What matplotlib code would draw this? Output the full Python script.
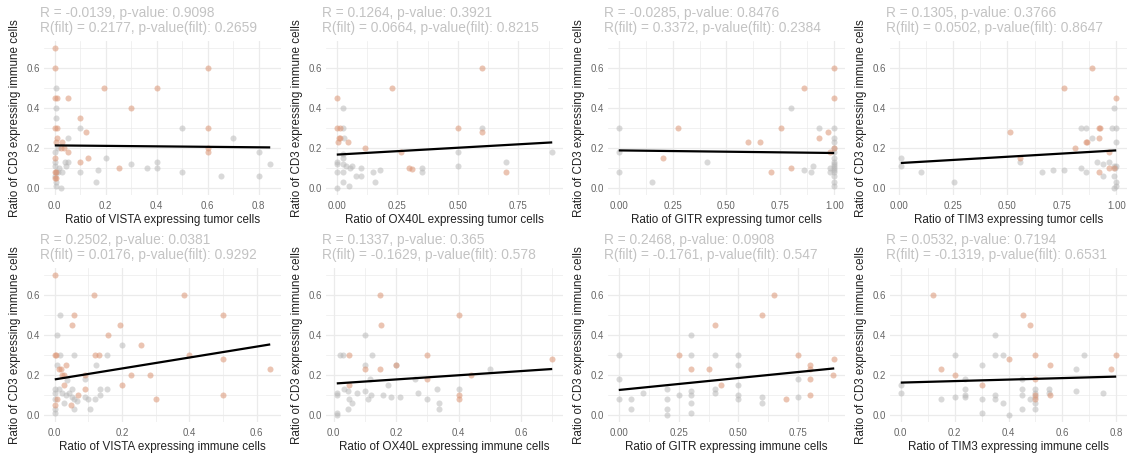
import numpy as np
import matplotlib
matplotlib.use("Agg")
import matplotlib.pyplot as plt

plt.rcParams['font.family'] = ['Liberation Sans', 'DejaVu Sans']

# ---------------------------------------------------------------- data
y_label = "Ratio of CD3 expressing immune cells"
y_ticks = [0.0, 0.2, 0.4, 0.6]
y_range = (0.0, 0.7)

# VISTA, tumor cells
vista_tumor_grey_x = [0.005, 0.003, 0.003, 0, 0, 0, 0.005, 0, 0.005, 0.003, 0.04, 0.05, 0.045, 0.03, 0.026,
                      0.012, 0.05, 0.10, 0.168, 0.16, 0.20, 0.30, 0.36, 0.40, 0.40, 0.50, 0.50, 0.65, 0.70,
                      0.80, 0.80, 0.845, 0.10, 0.012, 0.018]
vista_tumor_grey_y = [0.50, 0.40, 0.35, 0.18, 0.13, 0.11, 0.08, 0.06, 0.03, 0.01, 0.13, 0.13, 0.11, 0.08, 0.0,
                      0.08, 0.25, 0.08, 0.09, 0.03, 0.15, 0.12, 0.10, 0.10, 0.13, 0.30, 0.08, 0.06, 0.25,
                      0.18, 0.06, 0.12, 0.30, 0.20, 0.10]
vista_tumor_hi_x = [0, 0, 0, 0.007, 0, 0.007, 0.009, 0.003, 0.03, 0.025, 0.036, 0, 0.05, 0, 0.005, 0, 0.003,
                    0.052, 0.10, 0.123, 0.10, 0.13, 0.194, 0.297, 0.40, 0.60, 0.60, 0.60, 0.60, 0.25]
vista_tumor_hi_y = [0.70, 0.60, 0.45, 0.45, 0.30, 0.30, 0.25, 0.23, 0.23, 0.20, 0.20, 0.15, 0.18, 0.08, 0.08,
                    0.05, 0.05, 0.45, 0.35, 0.28, 0.13, 0.15, 0.50, 0.40, 0.50, 0.60, 0.30, 0.20, 0.18, 0.10]
vista_tumor_fit = [0.213, 0.203]

# OX40L, tumor cells
ox40l_tumor_grey_x = [0.027, 0.025, 0, 0, 0, 0, 0.025, 0.027, 0.027, 0.037, 0.025, 0.025, 0.055, 0.064, 0.05,
                      0.08, 0.10, 0.10, 0.15, 0.157, 0.18, 0.35, 0.35, 0.50, 0.50, 0.60, 0.70, 0.89, 0.03]
ox40l_tumor_grey_y = [0.40, 0.30, 0.13, 0.12, 0.08, 0.0, 0.17, 0.15, 0.12, 0.11, 0.08, 0.03, 0.10, 0.11, 0.01,
                      0.06, 0.06, 0.10, 0.08, 0.03, 0.09, 0.10, 0.08, 0.18, 0.11, 0.30, 0.13, 0.18, 0.25]
ox40l_tumor_hi_x = [0, 0, 0.014, 0.004, 0.01, 0.015, 0.048, 0.115, 0.23, 0.265, 0.30, 0.31, 0.50, 0.60, 0.60, 0.70]
ox40l_tumor_hi_y = [0.45, 0.30, 0.30, 0.23, 0.25, 0.25, 0.23, 0.20, 0.50, 0.18, 0.10, 0.095, 0.30, 0.60, 0.28, 0.08]
ox40l_tumor_fit = [0.167, 0.228]

# GITR, tumor cells
gitr_tumor_grey_x = [0, 0, 0, 0.155, 0.41, 0.80, 0.93, 1.0, 0.90, 0.89, 0.86, 0.98, 0.98, 1, 1, 1, 1, 1, 1,
                     1, 1, 1, 1, 1, 1, 1, 1]
gitr_tumor_grey_y = [0.30, 0.18, 0.08, 0.03, 0.13, 0.40, 0.30, 0.30, 0.11, 0.08, 0.09, 0.10, 0.08, 0.25, 0.23,
                     0.20, 0.18, 0.15, 0.13, 0.12, 0.11, 0.10, 0.09, 0.08, 0.06, 0.03, 0.01]
gitr_tumor_hi_x = [0.275, 0.205, 0.60, 0.655, 0.705, 0.755, 0.80, 0.858, 0.97, 0.93, 0.98, 1.0, 1.0, 1.0]
gitr_tumor_hi_y = [0.30, 0.15, 0.23, 0.23, 0.08, 0.30, 0.10, 0.50, 0.28, 0.25, 0.18, 0.60, 0.45, 0.20]
gitr_tumor_fit = [0.188, 0.175]

# TIM3, tumor cells
tim3_tumor_grey_x = [0.01, 0.01, 0.105, 0.255, 0.56, 0.66, 0.71, 0.76, 0.84, 0.86, 0.84, 0.86, 0.89, 0.91,
                     0.94, 0.94, 0.965, 0.98, 0.99, 0.99, 0.995, 1.0, 0.99, 0.99, 1.0, 1.0, 1.0, 1.0]
tim3_tumor_grey_y = [0.15, 0.11, 0.08, 0.03, 0.13, 0.08, 0.09, 0.09, 0.30, 0.30, 0.10, 0.08, 0.25, 0.13,
                     0.12, 0.06, 0.13, 0.30, 0.40, 0.11, 0.10, 0.11, 0.06, 0.0, 0.03, 0.01, 0.30, 0.23]
tim3_tumor_hi_x = [0.51, 0.56, 0.76, 0.89, 0.81, 0.86, 0.865, 0.92, 0.925, 0.92, 0.92, 0.965, 0.965, 0.99, 1.0]
tim3_tumor_hi_y = [0.28, 0.15, 0.50, 0.60, 0.20, 0.23, 0.23, 0.30, 0.30, 0.25, 0.08, 0.18, 0.10, 0.10, 0.45]
tim3_tumor_fit = [0.125, 0.188]

# VISTA, immune cells
vista_immune_grey_x = [0.016, 0.008, 0.20, 0.016, 0.057, 0.154, 0.123, 0.006, 0.037, 0.09, 0, 0, 0, 0, 0,
                       0.013, 0.022, 0.032, 0.042, 0.052, 0.052, 0.057, 0.067, 0.027, 0.057, 0.09, 0.10,
                       0.105, 0.12, 0.133, 0.135, 0.154]
vista_immune_grey_y = [0.50, 0.40, 0.35, 0.30, 0.30, 0.30, 0.25, 0.25, 0.175, 0.18, 0.13, 0.11, 0.08, 0.03,
                       0.01, 0.13, 0.11, 0.10, 0.11, 0.13, 0.09, 0.08, 0.07, 0.06, 0.03, 0.09, 0.08, 0.03,
                       0.08, 0.10, 0.13, 0.13]
vista_immune_hi_x = [0, 0.117, 0.383, 0.057, 0.50, 0.052, 0.193, 0.157, 0, 0.005, 0.12, 0.13, 0.257, 0.40,
                     0.50, 0.64, 0.032, 0.013, 0.018, 0.022, 0.027, 0.09, 0.227, 0.284, 0.20, 0.09, 0.027,
                     0.30, 0.50, 0.07, 0, 0.006, 0.047]
vista_immune_hi_y = [0.70, 0.60, 0.60, 0.50, 0.50, 0.45, 0.45, 0.40, 0.30, 0.30, 0.30, 0.30, 0.35, 0.30,
                     0.28, 0.23, 0.25, 0.23, 0.23, 0.20, 0.20, 0.20, 0.20, 0.20, 0.15, 0.13, 0.15, 0.08,
                     0.10, 0.10, 0.05, 0.08, 0.05]
vista_immune_fit = [0.178, 0.353]

# OX40L, immune cells
ox40l_immune_grey_x = [0.10, 0.02, 0.03, 0.124, 0.10, 0.20, 0.118, 0.26, 0.01, 0.01, 0.034, 0.045, 0.05,
                       0.058, 0.045, 0.01, 0.01, 0.076, 0.10, 0.11, 0.12, 0.158, 0.174, 0.185, 0.213, 0.27,
                       0.30, 0.33, 0.337, 0.337, 0.40, 0.50]
ox40l_immune_grey_y = [0.40, 0.30, 0.30, 0.30, 0.25, 0.25, 0.18, 0.18, 0.11, 0.10, 0.13, 0.12, 0.08, 0.06,
                       0.03, 0.01, 0.0, 0.11, 0.12, 0.08, 0.10, 0.10, 0.15, 0.09, 0.09, 0.11, 0.08, 0.13,
                       0.06, 0.03, 0.13, 0.23]
ox40l_immune_hi_x = [0.148, 0.152, 0.40, 0.05, 0.30, 0.10, 0.15, 0.20, 0.05, 0.30, 0.44, 0.40, 0.40, 0.70]
ox40l_immune_hi_y = [0.60, 0.45, 0.50, 0.30, 0.30, 0.23, 0.23, 0.25, 0.15, 0.18, 0.20, 0.10, 0.08, 0.28]
ox40l_immune_fit = [0.158, 0.230]

# GITR, immune cells
gitr_immune_grey_x = [0, 0, 0, 0.05, 0.05, 0.10, 0.20, 0.20, 0.20, 0.20, 0.25, 0.30, 0.30, 0.30, 0.30, 0.30,
                      0.30, 0.40, 0.40, 0.40, 0.50, 0.50, 0.50, 0.50, 0.50, 0.60, 0.60, 0.75, 0.75]
gitr_immune_grey_y = [0.30, 0.18, 0.08, 0.08, 0.03, 0.11, 0.13, 0.08, 0.03, 0.0, 0.10, 0.40, 0.30, 0.12, 0.10,
                      0.06, 0.01, 0.30, 0.13, 0.11, 0.30, 0.25, 0.15, 0.10, 0.08, 0.09, 0.06, 0.18, 0.09]
gitr_immune_hi_x = [0.25, 0.30, 0.375, 0.40, 0.425, 0.60, 0.65, 0.70, 0.75, 0.80, 0.80, 0.80, 0.80, 0.895, 0.90]
gitr_immune_hi_y = [0.30, 0.23, 0.23, 0.45, 0.15, 0.50, 0.60, 0.08, 0.30, 0.25, 0.23, 0.18, 0.10, 0.20, 0.28]
gitr_immune_fit = [0.125, 0.233]

# TIM3, immune cells
tim3_immune_grey_x = [0, 0, 0.15, 0.20, 0.20, 0.24, 0.24, 0.24, 0.24, 0.30, 0.30, 0.30, 0.35, 0.35, 0.35,
                      0.35, 0.38, 0.38, 0.40, 0.45, 0.45, 0.45, 0.45, 0.48, 0.50, 0.50, 0.50, 0.50, 0.50,
                      0.55, 0.55, 0.65, 0.65, 0.68, 0.75]
tim3_immune_grey_y = [0.15, 0.11, 0.08, 0.30, 0.09, 0.18, 0.13, 0.10, 0.09, 0.25, 0.08, 0.01, 0.40, 0.30, 0.10,
                      0.08, 0.30, 0.06, 0.0, 0.18, 0.13, 0.10, 0.03, 0.08, 0.13, 0.11, 0.09, 0.06, 0.03,
                      0.13, 0.11, 0.23, 0.12, 0.30, 0.11]
tim3_immune_hi_x = [0.15, 0.20, 0.12, 0.30, 0.40, 0.455, 0.48, 0.50, 0.50, 0.50, 0.50, 0.555, 0.555, 0.78, 0.80]
tim3_immune_hi_y = [0.23, 0.20, 0.60, 0.15, 0.28, 0.50, 0.45, 0.30, 0.18, 0.10, 0.08, 0.25, 0.10, 0.23, 0.30]
tim3_immune_fit = [0.162, 0.192]

titles = [
    ("R = -0.0139, p-value: 0.9098", "R(filt) = 0.2177, p-value(filt): 0.2659"),
    ("R = 0.1264, p-value: 0.3921", "R(filt) = 0.0664, p-value(filt): 0.8215"),
    ("R = -0.0285, p-value: 0.8476", "R(filt) = 0.3372, p-value(filt): 0.2384"),
    ("R = 0.1305, p-value: 0.3766", "R(filt) = 0.0502, p-value(filt): 0.8647"),
    ("R = 0.2502, p-value: 0.0381", "R(filt) = 0.0176, p-value(filt): 0.9292"),
    ("R = 0.1337, p-value: 0.365", "R(filt) = -0.1629, p-value(filt): 0.578"),
    ("R = 0.2468, p-value: 0.0908", "R(filt) = -0.1761, p-value(filt): 0.547"),
    ("R = 0.0532, p-value: 0.7194", "R(filt) = -0.1319, p-value(filt): 0.6531"),
]
x_labels = [
    "Ratio of VISTA expressing tumor cells", "Ratio of OX40L expressing tumor cells",
    "Ratio of GITR expressing tumor cells", "Ratio of TIM3 expressing tumor cells",
    "Ratio of VISTA expressing immune cells", "Ratio of OX40L expressing immune cells",
    "Ratio of GITR expressing immune cells", "Ratio of TIM3 expressing immune cells",
]
x_ticks = [
    [0.0, 0.2, 0.4, 0.6, 0.8], [0.0, 0.25, 0.5, 0.75], [0.0, 0.25, 0.5, 0.75, 1.0], [0.0, 0.25, 0.5, 0.75, 1.0],
    [0.0, 0.2, 0.4, 0.6], [0.0, 0.2, 0.4, 0.6], [0.0, 0.25, 0.5, 0.75], [0.0, 0.2, 0.4, 0.6, 0.8],
]
x_tick_fmt = ["%.1f", "%.2f", "%.2f", "%.2f", "%.1f", "%.1f", "%.2f", "%.1f"]

panels = [
    (vista_tumor_grey_x, vista_tumor_grey_y, vista_tumor_hi_x, vista_tumor_hi_y, vista_tumor_fit),
    (ox40l_tumor_grey_x, ox40l_tumor_grey_y, ox40l_tumor_hi_x, ox40l_tumor_hi_y, ox40l_tumor_fit),
    (gitr_tumor_grey_x, gitr_tumor_grey_y, gitr_tumor_hi_x, gitr_tumor_hi_y, gitr_tumor_fit),
    (tim3_tumor_grey_x, tim3_tumor_grey_y, tim3_tumor_hi_x, tim3_tumor_hi_y, tim3_tumor_fit),
    (vista_immune_grey_x, vista_immune_grey_y, vista_immune_hi_x, vista_immune_hi_y, vista_immune_fit),
    (ox40l_immune_grey_x, ox40l_immune_grey_y, ox40l_immune_hi_x, ox40l_immune_hi_y, ox40l_immune_fit),
    (gitr_immune_grey_x, gitr_immune_grey_y, gitr_immune_hi_x, gitr_immune_hi_y, gitr_immune_fit),
    (tim3_immune_grey_x, tim3_immune_grey_y, tim3_immune_hi_x, tim3_immune_hi_y, tim3_immune_fit),
]

# ---------------------------------------------------------------- style
W, H, DPI = 1130, 454, 100
GREY_PT = "#b4b4b4"
HI_PT = "#db9474"
GRID = "#ebebeb"
TITLE_C = "#c3c3c3"
TICK_C = "#666666"
LABEL_C = "#222222"

col_x0 = [0, 282, 564, 846]
row_y0 = [0, 227]
panel_left, panel_w = 44, 237
panel_top, panel_h = 41, 154

fig = plt.figure(figsize=(W / DPI, H / DPI), dpi=DPI)


def expand(lo, hi, frac=0.05):
    pad = (hi - lo) * frac
    return lo - pad, hi + pad


for i, (gx, gy, hx, hy, fit) in enumerate(panels):
    r, c = divmod(i, 4)
    x0 = col_x0[c] + panel_left
    y0 = row_y0[r] + panel_top
    ax = fig.add_axes([x0 / W, 1 - (y0 + panel_h) / H, panel_w / W, panel_h / H])

    all_x = np.concatenate([gx, hx])
    xlo, xhi = all_x.min(), all_x.max()

    # grid: major + minor lines, theme_minimal look
    xt = x_ticks[i]
    step = xt[1] - xt[0]
    x_minor = [t + step / 2 for t in xt] + [xt[0] - step / 2]
    y_minor = [t + 0.1 for t in y_ticks] + [-0.1]
    ax.set_xticks(xt)
    ax.set_yticks(y_ticks)
    ax.set_xticks(x_minor, minor=True)
    ax.set_yticks(y_minor, minor=True)
    ax.set_xticklabels([x_tick_fmt[i] % t for t in xt])
    ax.set_yticklabels(["%.1f" % t for t in y_ticks])
    ax.set_xlim(*expand(xlo, xhi))
    ax.set_ylim(*expand(*y_range))

    ax.grid(True, which="major", color=GRID, lw=0.9)
    ax.grid(True, which="minor", color=GRID, lw=0.5)
    ax.set_axisbelow(True)
    for s in ax.spines.values():
        s.set_visible(False)
    ax.tick_params(which="both", length=0)
    ax.tick_params(axis="x", pad=4, labelsize=7.0, labelcolor=TICK_C)
    ax.tick_params(axis="y", pad=3, labelsize=7.0, labelcolor=TICK_C)

    ax.scatter(gx, gy, s=19, color=GREY_PT, alpha=0.5, lw=0, zorder=2)
    ax.scatter(hx, hy, s=19, color=HI_PT, alpha=0.55, lw=0, zorder=3)
    ax.plot([xlo, xhi], fit, color="black", lw=1.6, solid_capstyle="butt", zorder=4)

    ax.set_xlabel(x_labels[i], fontsize=8.4, color=LABEL_C, labelpad=2.5)
    ax.set_ylabel(y_label, fontsize=8.4, color=LABEL_C, labelpad=3.5)

    tx = (col_x0[c] + 40) / W
    fig.text(tx, 1 - (row_y0[r] + 13) / H, titles[i][0], fontsize=9.9, color=TITLE_C, va="center", ha="left")
    fig.text(tx, 1 - (row_y0[r] + 28) / H, titles[i][1], fontsize=9.9, color=TITLE_C, va="center", ha="left")

fig.savefig("out.png", dpi=DPI, facecolor="white")
